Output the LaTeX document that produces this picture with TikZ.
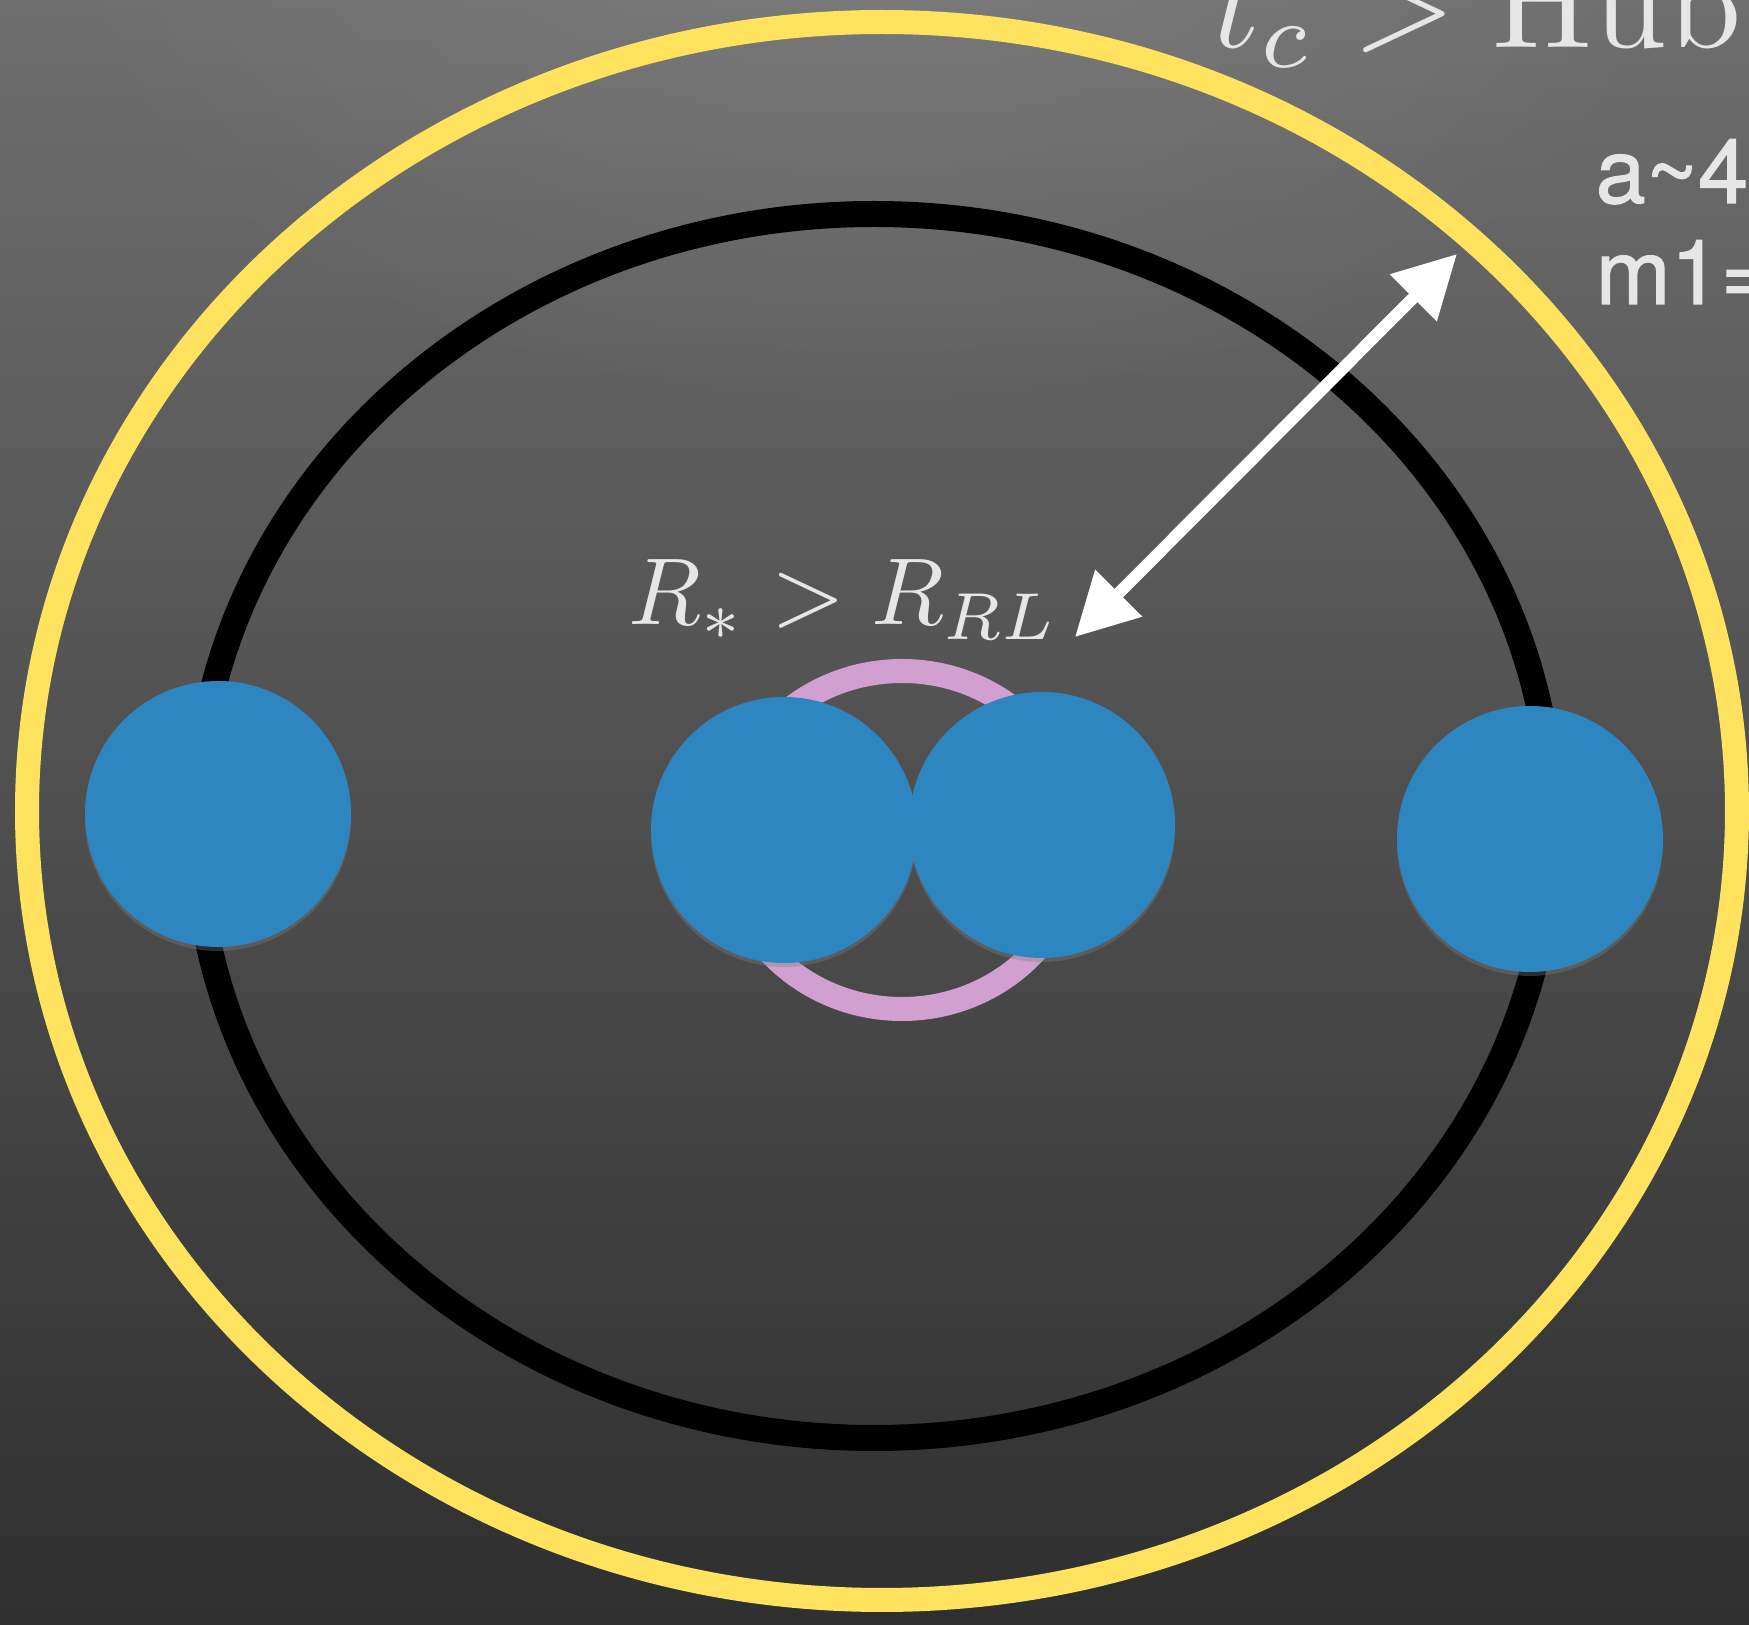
\documentclass[tikz,border=0pt]{standalone}
\usepackage{fontspec}
\newfontfamily\helv[FakeBold=1.2]{TeX Gyre Heros}
\usetikzlibrary{arrows.meta,shapes.geometric,shadows}
\definecolor{bgTop}{HTML}{6E6E6E}
\definecolor{bgMid}{HTML}{4C4C4C}
\definecolor{bgBot}{HTML}{2F2F2F}
\definecolor{starblue}{HTML}{2E86C1}
\definecolor{orbyellow}{HTML}{FFE35E}
\definecolor{ringpink}{HTML}{D19FD0}
\definecolor{labelgray}{HTML}{E6E6E6}
\tikzset{
  star/.style={circle, fill=starblue, draw=none, minimum size=79.8pt, inner sep=0pt,
    drop shadow={opacity=0.35, shadow xshift=0pt, shadow yshift=-1.2pt}},
  orbit/.style={ellipse, draw, fill=none, inner sep=0pt},
  mathlabel/.style={text=labelgray, inner sep=0pt, anchor=base west},
  sidetext/.style={text=labelgray, inner sep=0pt, anchor=base west, font=\helv\fontsize{27}{32}\selectfont},
  sizearrow/.style={draw=white, line width=3.6pt, {Triangle[length=18.6pt,width=19pt]}-{Triangle[length=18.6pt,width=19pt]}}
}
\begin{document}
\begin{tikzpicture}[x=0.3pt, y=-0.3pt]
  \useasboundingbox (0,0) rectangle (1749,1625);
  \clip (0,0) rectangle (1749,1625);
  \shade[top color=bgTop, middle color=bgMid, bottom color=bgBot] (0,0) rectangle (1749,1625);
  \shade[inner color=white, outer color=bgTop, opacity=0.12] (874,-250) ellipse [x radius=900, y radius=650];

  % orbits
  \node[orbit, draw=orbyellow, line width=7.2pt, minimum width=513pt, minimum height=473.4pt] (outer) at (882,811) {};
  \node[orbit, draw=black, line width=7.8pt, minimum width=406.8pt, minimum height=367.2pt] (inner) at (874,826) {};
  \node[orbit, draw=ringpink, line width=7.2pt, minimum width=106pt, minimum height=101.4pt] (ring) at (902,840) {};

  % stars
  \node[star] (s4) at (1530,839) {};
  \node[star] (s1) at (218,814) {};
  \node[star] (s3) at (1042,825) {};
  \node[star] (s2) at (784,830) {};

  % labels
  \node[mathlabel, scale=2.85] (rlabel) at (627,625) {$R_{*} > R_{RL}$};
  \node[mathlabel, scale=4.0] (tlabel) at (1210,48) {$t_{c} > \mathrm{Hub}$};
  \node[sidetext] (alabel) at (1595,203) {a\textasciitilde45};
  \node[sidetext] (mlabel) at (1595,304) {m1=};

  % separation arrow
  \coordinate (arrA) at (1075,637);
  \coordinate (arrB) at (1457,254);
  \draw[sizearrow] (arrA) -- (arrB);
\end{tikzpicture}
\end{document}
